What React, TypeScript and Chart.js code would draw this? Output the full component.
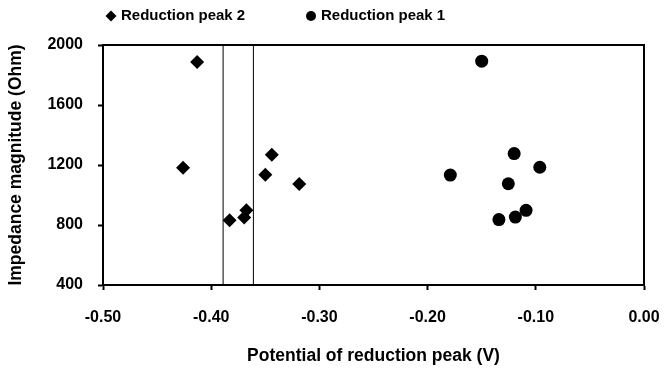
import React, { useEffect, useRef } from "react";
import { Chart, registerables } from "chart.js";

Chart.register(...registerables);

const seriesNames = ["Reduction peak 2", "Reduction peak 1"];
const peak2X = [-0.413, -0.426, -0.383, -0.3695, -0.3675, -0.35, -0.344, -0.3186];
const peak2Y = [1887, 1181, 832, 850, 898, 1135, 1268, 1073];
const peak1X = [-0.150, -0.179, -0.120, -0.0963, -0.1254, -0.109, -0.1189, -0.1341];
const peak1Y = [1892, 1133, 1276, 1185, 1075, 898, 853, 836];
const guideLinesX = [-0.389, -0.361];
const yRange = [400, 2000];
const xRange = [-0.5, 0];

const FONT = "'Liberation Sans', Arial, sans-serif";

const framePlugin = {
  id: "frameAndLegend",
  afterDraw(chart: any) {
    const { ctx, chartArea } = chart;
    ctx.save();
    ctx.strokeStyle = "#000";
    ctx.lineWidth = 2;
    ctx.strokeRect(chartArea.left, chartArea.top, chartArea.right - chartArea.left, chartArea.bottom - chartArea.top);
    // legend
    ctx.fillStyle = "#000";
    ctx.font = `bold 15px ${FONT}`;
    ctx.textBaseline = "middle";
    const ly = 16;
    const dx = 111;
    ctx.beginPath();
    ctx.moveTo(dx, ly - 5.5);
    ctx.lineTo(dx + 5.5, ly);
    ctx.lineTo(dx, ly + 5.5);
    ctx.lineTo(dx - 5.5, ly);
    ctx.closePath();
    ctx.fill();
    ctx.fillText(seriesNames[0], 121, ly);
    const cx = 311;
    ctx.beginPath();
    ctx.arc(cx, ly, 5, 0, Math.PI * 2);
    ctx.fill();
    ctx.fillText(seriesNames[1], 321, ly);
    ctx.restore();
  },
};

export default function App() {
  const ref = useRef<HTMLCanvasElement | null>(null);
  useEffect(() => {
    if (!ref.current) return;
    const guideSets = guideLinesX.map((gx) => ({
      type: "line" as const,
      label: "guide",
      data: [
        { x: gx, y: yRange[0] },
        { x: gx, y: yRange[1] },
      ],
      borderColor: "#000",
      borderWidth: 1,
      pointRadius: 0,
      showLine: true,
      fill: false,
    }));
    const chart = new Chart(ref.current, {
      type: "scatter",
      data: {
        datasets: [
          {
            label: seriesNames[0],
            data: peak2X.map((x, i) => ({ x, y: peak2Y[i] })),
            pointStyle: "rectRot",
            pointRadius: 7,
            backgroundColor: "#000",
            borderColor: "#000",
            borderWidth: 0,
          },
          {
            label: seriesNames[1],
            data: peak1X.map((x, i) => ({ x, y: peak1Y[i] })),
            pointStyle: "circle",
            pointRadius: 6.5,
            backgroundColor: "#000",
            borderColor: "#000",
            borderWidth: 0,
          },
          ...guideSets,
        ] as any,
      },
      options: {
        animation: false,
        responsive: true,
        maintainAspectRatio: false,
        layout: { padding: { top: 45, right: 24, left: 0, bottom: 0 } },
        plugins: { legend: { display: false }, tooltip: { enabled: false } },
        scales: {
          x: {
            type: "linear",
            min: xRange[0],
            max: xRange[1],
            afterFit: (axis: any) => {
              axis.height = 83;
              axis.paddingRight = 0;
              axis.paddingLeft = 0;
            },
            ticks: {
              stepSize: 0.1,
              color: "#000",
              padding: 18,
              font: { family: FONT, size: 16, weight: "bold" },
              callback: (v: any) => Number(v).toFixed(2),
            },
            grid: { drawOnChartArea: false, tickLength: 5, tickWidth: 2, tickColor: "#000" },
            border: { display: true, color: "#000", width: 2 },
            title: {
              display: true,
              text: "Potential of reduction peak (V)",
              color: "#000",
              font: { family: FONT, size: 17.5, weight: "bold" },
              padding: { top: 1, bottom: 1 },
            },
          },
          y: {
            type: "linear",
            min: yRange[0],
            max: yRange[1],
            afterFit: (axis: any) => {
              axis.width = 103;
              axis.paddingTop = 0;
              axis.paddingBottom = 0;
            },
            ticks: {
              stepSize: 400,
              color: "#000",
              padding: 15,
              font: { family: FONT, size: 16, weight: "bold" },
              callback: (v: any) => String(v),
            },
            grid: { drawOnChartArea: false, tickLength: 5, tickWidth: 2, tickColor: "#000" },
            border: { display: true, color: "#000", width: 2 },
            title: {
              display: true,
              text: "Impedance magnitude (Ohm)",
              color: "#000",
              font: { family: FONT, size: 17.5, weight: "bold" },
              padding: { top: 6, bottom: 6 },
            },
          },
        },
      },
      plugins: [framePlugin],
    });
    return () => chart.destroy();
  }, []);
  return (
    <div style={{ position: "fixed", left: 0, top: 0, width: 668, height: 368, background: "#fff" }}>
      <canvas ref={ref} />
    </div>
  );
}
